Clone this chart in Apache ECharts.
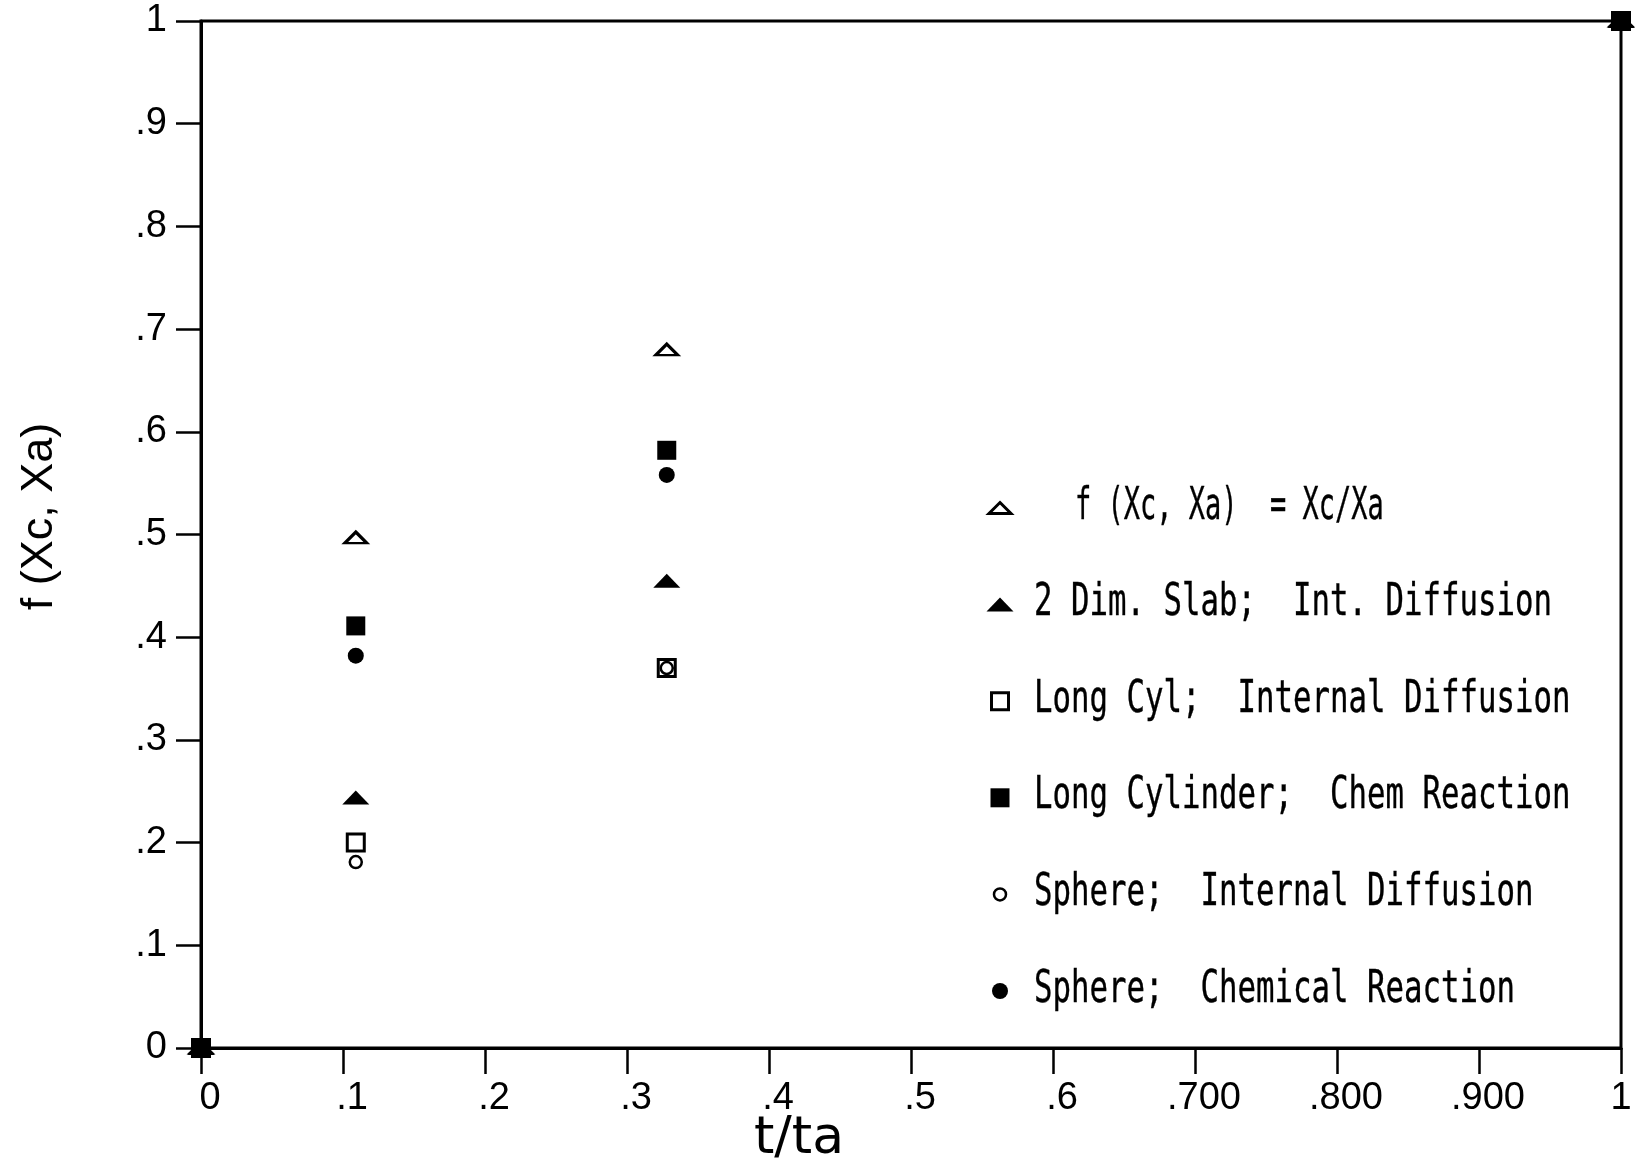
<!DOCTYPE html>
<html>
<head>
<meta charset="utf-8">
<title>f (Xc, Xa) vs t/ta</title>
<script src="https://cdn.jsdelivr.net/npm/echarts@6/dist/echarts.min.js"></script>
<style>
  html, body { margin: 0; padding: 0; background: #ffffff; }
  #chart { width: 1635px; height: 1159px; }
</style>
</head>
<body>
<div id="chart"></div>
<script>
// Reduced time t/ta at which each conversion function was evaluated
const tRatio = [0, 0.109, 0.328, 1];

// Series values f(Xc, Xa) for each model
const ratioXcXa      = [0, 0.497, 0.680, 1];
const slab2dIntDiff  = [0, 0.244, 0.455, 1];
const longCylIntDiff = [0, 0.200, 0.370, 1];
const longCylChemRx  = [0, 0.411, 0.582, 1];
const sphereIntDiff  = [0, 0.181, 0.370, 1];
const sphereChemRx   = [0, 0.382, 0.558, 1];

const seriesNames = [
  'f (Xc, Xa)  = Xc/Xa',
  '2 Dim. Slab;  Int. Diffusion',
  'Long Cyl;  Internal Diffusion',
  'Long Cylinder;  Chem Reaction',
  'Sphere;  Internal Diffusion',
  'Sphere;  Chemical Reaction'
];

// Tick labels as printed on the axes
const xTickLabels = ['0', '.1', '.2', '.3', '.4', '.5', '.6', '.700', '.800', '.900', '1'];
const yTickLabels = ['0', '.1', '.2', '.3', '.4', '.5', '.6', '.7', '.8', '.9', '1'];

const TICK_FONT = "'Liberation Sans', Arial, sans-serif";
const TITLE_FONT = "'DejaVu Sans', sans-serif";
const KEY_FONT = "'DejaVu Sans Mono', monospace";
const INK = '#000000';

function pairs(ys) {
  return tRatio.map((t, i) => [t, ys[i]]);
}

const openStyle = { color: '#ffffff', borderColor: INK, borderWidth: 3, opacity: 1 };
const solidStyle = { color: INK, borderColor: INK, borderWidth: 0, opacity: 1 };

const seriesDefs = [
  { values: ratioXcXa,      symbol: 'triangle', size: [22, 11], style: openStyle },
  { values: slab2dIntDiff,  symbol: 'triangle', size: [27, 14], style: solidStyle },
  { values: longCylIntDiff, symbol: 'rect',     size: [17, 17], style: openStyle },
  { values: longCylChemRx,  symbol: 'rect',     size: [19, 19], style: solidStyle },
  { values: sphereIntDiff,  symbol: 'circle',   size: [12, 12], style: Object.assign({}, openStyle, { borderWidth: 2.5 }) },
  { values: sphereChemRx,   symbol: 'circle',   size: [16, 16], style: solidStyle }
];

// Key (legend) layout: one row per series, drawn with the same marker shapes
const keyIconX = 1000;
const keyTextX = 1034;
const keyFirstRowY = 508;
const keyRowPitch = 96.6;

function keyIcon(def, cx, cy) {
  const w = def.size[0], h = def.size[1];
  const st = def.style;
  const style = {
    fill: st.color,
    stroke: st.borderWidth ? st.borderColor : null,
    lineWidth: st.borderWidth || 0
  };
  if (def.symbol === 'triangle') {
    return { type: 'polygon', silent: true, z: 20,
      shape: { points: [[cx, cy - h / 2], [cx + w / 2, cy + h / 2], [cx - w / 2, cy + h / 2]] },
      style: style };
  }
  if (def.symbol === 'rect') {
    return { type: 'rect', silent: true, z: 20,
      shape: { x: cx - w / 2, y: cy - h / 2, width: w, height: h }, style: style };
  }
  return { type: 'circle', silent: true, z: 20,
    shape: { cx: cx, cy: cy, r: w / 2 }, style: style };
}

const keyElements = [];
seriesDefs.forEach((def, i) => {
  const cy = keyFirstRowY + i * keyRowPitch;
  keyElements.push(keyIcon(def, keyIconX, cy));
  keyElements.push({
    type: 'text', silent: true, z: 20,
    x: i === 0 ? keyTextX + 41 : keyTextX,
    y: cy - 1,
    scaleX: i === 0 ? 0.6 : 0.683,
    style: {
      text: seriesNames[i],
      fontFamily: KEY_FONT,
      fontSize: 45,
      fill: INK,
      stroke: INK,
      lineWidth: 0.4,
      align: 'left',
      verticalAlign: 'middle'
    }
  });
});

// Tick label text style; all but the last x label sit slightly right of their tick
const tickText = { fontFamily: TICK_FONT, fontSize: 38, color: INK, lineHeight: 38 };

const chart = echarts.init(document.getElementById('chart'), null, { renderer: 'canvas' });

chart.setOption({
  backgroundColor: '#ffffff',
  animation: false,
  grid: {
    left: 201, top: 21, right: 14, bottom: 111,
    outerBoundsMode: 'none',
    containLabel: false,
    show: true,
    borderColor: INK,
    borderWidth: 3,
    backgroundColor: 'transparent'
  },
  xAxis: {
    type: 'value',
    min: 0, max: 1, interval: 0.1,
    name: 't/ta',
    nameLocation: 'middle',
    nameGap: 65,
    nameMoveOverlap: false,
    nameTextStyle: {
      fontFamily: TITLE_FONT, fontSize: 52, color: INK, lineHeight: 52,
      padding: [0, 224, 0, 0]
    },
    axisLine: { show: true, onZero: false, lineStyle: { color: INK, width: 3 } },
    axisTick: { show: true, inside: false, length: 26, lineStyle: { color: INK, width: 2.5 } },
    axisLabel: {
      margin: 32,
      fontFamily: TICK_FONT, fontSize: 38, color: INK, lineHeight: 38,
      formatter: (v) => {
        const k = Math.round(v * 10);
        return (k === xTickLabels.length - 1 ? '{e|' : '{s|') + xTickLabels[k] + '}';
      },
      rich: {
        s: Object.assign({ padding: [0, 0, 0, 18] }, tickText),
        e: Object.assign({}, tickText)
      }
    },
    splitLine: { show: false }
  },
  yAxis: {
    type: 'value',
    min: 0, max: 1, interval: 0.1,
    name: 'f (Xc, Xa)',
    nameLocation: 'middle',
    nameRotate: 90,
    nameGap: 139,
    nameMoveOverlap: false,
    nameTextStyle: {
      fontFamily: TICK_FONT, fontSize: 45, color: INK,
      padding: [0, 0, 0, 36]
    },
    axisLine: { show: true, onZero: false, lineStyle: { color: INK, width: 3 } },
    axisTick: { show: true, inside: false, length: 25, lineStyle: { color: INK, width: 2.5 } },
    axisLabel: {
      margin: 34,
      fontFamily: TICK_FONT, fontSize: 38, color: INK,
      padding: [10, 0, 0, 0],
      formatter: (v) => yTickLabels[Math.round(v * 10)]
    },
    splitLine: { show: false }
  },
  graphic: { elements: keyElements },
  series: seriesDefs.map((d, i) => ({
    name: seriesNames[i],
    type: 'scatter',
    clip: false,
    symbol: d.symbol,
    symbolSize: d.size,
    itemStyle: d.style,
    emphasis: { disabled: true },
    data: pairs(d.values),
    z: 2 + i
  }))
});
</script>
</body>
</html>
